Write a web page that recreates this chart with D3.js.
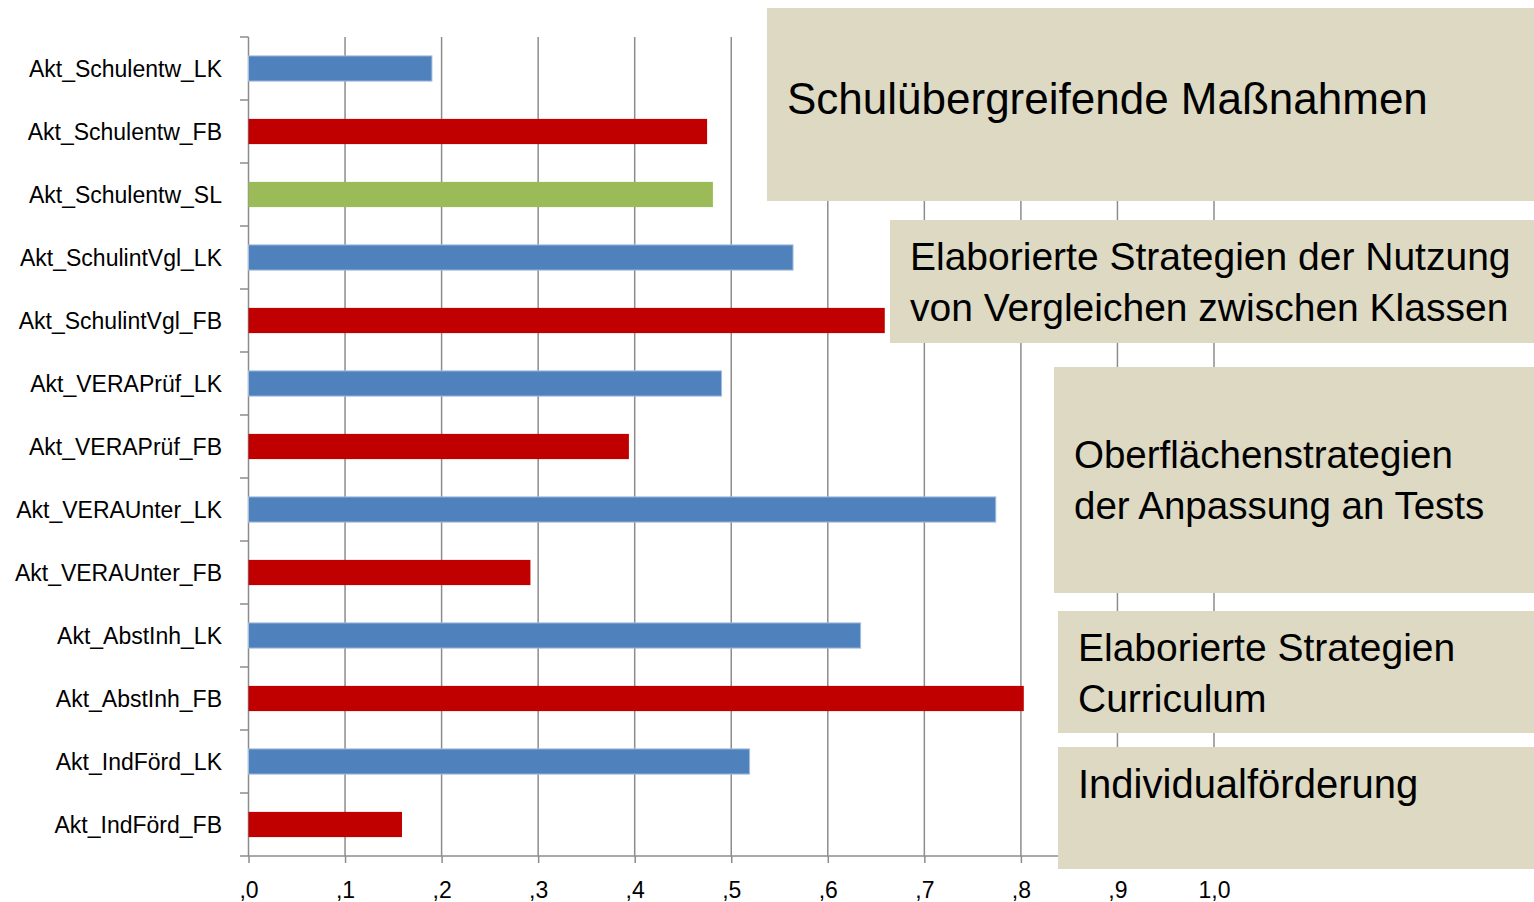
<!DOCTYPE html>
<meta charset="utf-8">
<head>
<style>
    body {margin: 0; background: #fff; font-family: "Liberation Sans", Arial, sans-serif;}
</style>
<script src="https://d3js.org/d3.v7.min.js"></script>
</head>
<body>
    <div id="chart"></div>
</body>
<script>

// data
var categories = ["Akt_Schulentw_LK", "Akt_Schulentw_FB", "Akt_Schulentw_SL",
    "Akt_SchulintVgl_LK", "Akt_SchulintVgl_FB", "Akt_VERAPrüf_LK", "Akt_VERAPrüf_FB",
    "Akt_VERAUnter_LK", "Akt_VERAUnter_FB", "Akt_AbstInh_LK", "Akt_AbstInh_FB",
    "Akt_IndFörd_LK", "Akt_IndFörd_FB"];
var values = [0.190, 0.475, 0.481, 0.564, 0.659, 0.490, 0.394,
    0.774, 0.292, 0.634, 0.803, 0.519, 0.159];
var groups = ["LK", "FB", "SL", "LK", "FB", "LK", "FB", "LK", "FB", "LK", "FB", "LK", "FB"];
var ticks = [0, 0.1, 0.2, 0.3, 0.4, 0.5, 0.6, 0.7, 0.8, 0.9, 1.0];
var notes = [
    ["Schulübergreifende Maßnahmen"],
    ["Elaborierte Strategien der Nutzung", "von Vergleichen zwischen Klassen"],
    ["Oberflächenstrategien", "der Anpassung an Tests"],
    ["Elaborierte Strategien", "Curriculum"],
    ["Individualförderung"]
];

function run() {
    var width = 1534, height = 902;
    var gridColor = "#8c8c8c";
    var boxFill = "#ddd9c3";

    var svg = d3.select("#chart").append("svg")
        .attr("width", width)
        .attr("height", height);

    var x = d3.scaleLinear().domain([0, 1]).range([248.5, 1214]);
    var y = d3.scaleBand().domain(categories).range([37, 856])
        .paddingInner(0.6).paddingOuter(0.3);
    var color = d3.scaleOrdinal().domain(["LK", "FB", "SL"])
        .range(["#4f81bd", "#c00000", "#9bbb59"]);

    // vertical gridlines
    svg.append("g")
        .selectAll("line")
        .data(ticks.slice(1))
        .enter().append("line")
        .attr("x1", function(d) { return x(d); })
        .attr("x2", function(d) { return x(d); })
        .attr("y1", 37)
        .attr("y2", 856)
        .style("stroke", gridColor)
        .style("stroke-width", 1.5);

    // bottom axis
    var xAxis = d3.axisBottom(x)
        .tickValues(ticks)
        .tickSize(7)
        .tickFormat(function(d) { return d3.format(".1f")(d).replace(/^0\./, ",").replace(".", ","); });
    var gx = svg.append("g")
        .attr("transform", "translate(0,856)")
        .call(xAxis);
    gx.select(".domain").remove();
    gx.append("line")
        .attr("x1", 240).attr("x2", x(1) + 5)
        .style("stroke", gridColor).style("stroke-width", 1.5);
    gx.selectAll(".tick line").style("stroke", gridColor).style("stroke-width", 1.5);
    gx.selectAll(".tick text")
        .attr("y", 42)
        .attr("dy", 0)
        .style("font-family", "'Liberation Sans', Arial, sans-serif")
        .style("font-size", "23px")
        .style("fill", "#000");

    // left axis
    var yAxis = svg.append("g");
    yAxis.append("line")
        .attr("x1", 248.5).attr("x2", 248.5)
        .attr("y1", 37).attr("y2", 856)
        .style("stroke", gridColor).style("stroke-width", 1.5);
    yAxis.selectAll("line.tk")
        .data(categories)
        .enter().append("line")
        .attr("class", "tk")
        .attr("x1", 240).attr("x2", 248.5)
        .attr("y1", function(d) { return y(d) - y.step() * y.paddingInner() / 2; })
        .attr("y2", function(d) { return y(d) - y.step() * y.paddingInner() / 2; })
        .style("stroke", gridColor).style("stroke-width", 1.5);
    yAxis.selectAll("text")
        .data(categories)
        .enter().append("text")
        .attr("x", 222)
        .attr("y", function(d) { return y(d) + y.bandwidth() / 2; })
        .attr("dy", "0.36em")
        .style("text-anchor", "end")
        .style("font-size", "23px")
        .text(function(d) { return d; });

    // bars
    svg.append("g")
        .selectAll("rect")
        .data(categories)
        .enter().append("rect")
        .attr("x", x(0))
        .attr("y", function(d) { return y(d); })
        .attr("width", function(d, i) { return x(values[i]) - x(0); })
        .attr("height", y.bandwidth())
        .style("fill", function(d, i) { return color(groups[i]); })
        .style("stroke", function(d, i) { return groups[i] == "LK" ? "#a5bfdd" : "none"; })
        .style("stroke-width", 1);

    // annotation boxes
    var boxes = [
        {x: 767, y: 8, w: 767, h: 193, tx: 787, ty: 114, fs: 44},
        {x: 890, y: 220, w: 644, h: 123, tx: 910, ty: 270, fs: 39},
        {x: 1054, y: 367, w: 480, h: 226, tx: 1074, ty: 468, fs: 38.5},
        {x: 1058, y: 611, w: 476, h: 122, tx: 1078, ty: 661, fs: 39},
        {x: 1058, y: 747, w: 476, h: 122, tx: 1078, ty: 798, fs: 40}
    ];
    var note = svg.append("g")
        .selectAll("g")
        .data(boxes)
        .enter().append("g");
    note.append("rect")
        .attr("x", function(d) { return d.x; })
        .attr("y", function(d) { return d.y; })
        .attr("width", function(d) { return d.w; })
        .attr("height", function(d) { return d.h; })
        .style("fill", boxFill);
    note.each(function(d, i) {
        var t = d3.select(this).append("text")
            .attr("x", d.tx)
            .attr("y", d.ty)
            .style("font-size", d.fs + "px")
            .style("fill", "#000");
        t.selectAll("tspan")
            .data(notes[i])
            .enter().append("tspan")
            .attr("x", d.tx)
            .attr("dy", function(l, j) { return j == 0 ? 0 : 51; })
            .text(function(l) { return l; });
    });
}

run();

</script>
